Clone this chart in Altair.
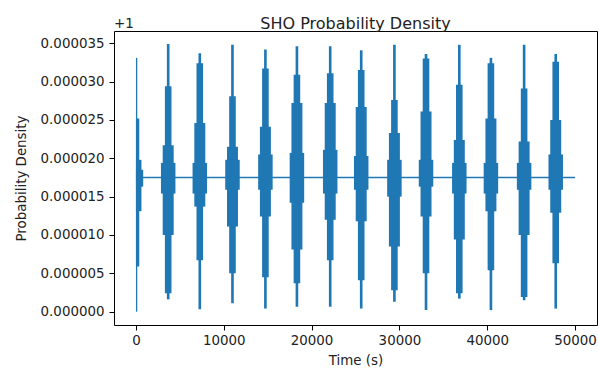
import altair as alt
import pandas as pd

# Burst centres (s)
burst_time = [0, 3670, 7270, 10990, 14740, 18330, 22120, 25650, 29430,
              33030, 36820, 40420, 44200, 47800]

# Upper envelope levels per burst (offset from 1, in units of 1e-6): spike, tier2, tier3, tier4
upper = [
    [33.1, 25.2, 19.8, 18.5],
    [34.9, 29.4, 21.7, 19.4],
    [33.7, 32.4, 24.6, 19.4],
    [34.8, 28.1, 21.5, 19.8],
    [34.2, 31.7, 24.1, 20.5],
    [34.6, 30.9, 27.2, 20.7],
    [34.6, 31.1, 27.2, 21.1],
    [34.1, 31.5, 26.7, 20.3],
    [34.8, 27.6, 23.3, 19.8],
    [33.6, 33.0, 26.1, 19.8],
    [34.8, 29.6, 22.4, 19.4],
    [33.1, 32.4, 25.2, 19.4],
    [34.8, 29.1, 22.2, 19.4],
    [33.6, 32.6, 25.0, 20.5],
]
# Lower envelope levels per burst (units of 1e-6)
lower = [
    [0.0, 5.9, 13.1, 16.3],
    [1.6, 2.4, 10.0, 15.4],
    [0.3, 6.7, 13.7, 15.4],
    [1.1, 5.0, 11.1, 15.9],
    [0.4, 4.5, 12.4, 15.9],
    [0.65, 3.7, 8.1, 14.2],
    [0.65, 6.7, 12.0, 15.4],
    [0.4, 4.1, 11.8, 15.9],
    [1.3, 2.8, 8.5, 15.0],
    [0.2, 5.0, 12.4, 16.3],
    [1.7, 2.4, 9.4, 15.4],
    [0.2, 5.4, 13.1, 15.4],
    [1.5, 1.9, 10.0, 15.9],
    [0.4, 6.3, 12.9, 15.9],
]
# Time span (s) covered by each tier of a burst
tier_span = [300, 750, 1250, 1650]

# Quiet level between bursts
line_time = [0, 50000]
line_value = [17.5, 17.5]

t_start, t_end = 0, 50000

rows = []
for c, ups, los in zip(burst_time, upper, lower):
    for span, up, lo in zip(tier_span, ups, los):
        x0 = max(t_start, c - span / 2)
        x1 = min(t_end, c + span / 2)
        rows.append({"t0": x0, "t1": x1, "lo": lo, "hi": up})
rects = pd.DataFrame(rows)
base = pd.DataFrame({"t": line_time, "v": line_value})

blue = "#1f77b4"
xs = alt.Scale(domain=[-2500, 52500], nice=False, zero=False)
ys = alt.Scale(domain=[-1.74, 36.6], nice=False, zero=False)

x_axis = alt.Axis(values=[0, 10000, 20000, 30000, 40000, 50000], title="Time (s)",
                  format="d",
                  grid=False, domain=False, tickSize=5, tickColor="black",
                  labelPadding=3, labelFontSize=13.4, titleFontSize=13.4,
                  titleFontWeight="normal", titlePadding=7, labelColor="#222",
                  titleColor="#222")
y_axis = alt.Axis(values=[0, 5, 10, 15, 20, 25, 30, 35], title="Probability Density",
                  labelExpr="format(datum.value/1000000, '.6f')",
                  grid=False, domain=False, tickSize=5, tickColor="black",
                  labelPadding=5, labelFontSize=13.4, titleFontSize=13.4,
                  titleFontWeight="normal", titlePadding=12, labelColor="#222",
                  titleColor="#222")

bars = alt.Chart(rects).mark_rect(color=blue).encode(
    x=alt.X("t0:Q", scale=xs, axis=x_axis),
    x2="t1:Q",
    y=alt.Y("lo:Q", scale=ys, axis=y_axis),
    y2="hi:Q",
)
line = alt.Chart(base).mark_line(color=blue, strokeWidth=1.6).encode(
    x=alt.X("t:Q", scale=xs),
    y=alt.Y("v:Q", scale=ys),
)
offset_txt = alt.Chart(pd.DataFrame({"s": ["+1"]})).mark_text(
    align="left", baseline="alphabetic", fontSize=13.4, color="#222"
).encode(x=alt.value(0), y=alt.value(-3), text="s:N")

chart = alt.layer(bars, line, offset_txt).properties(
    width=483, height=294,
    title=alt.TitleParams("SHO Probability Density", fontSize=16, fontWeight="normal",
                          color="#222", offset=4, dy=19),
    autosize=alt.AutoSizeParams(type="none"),
    padding={"left": 114, "top": 31, "right": 2, "bottom": 43},
).configure(font="DejaVu Sans").configure_view(stroke="black", strokeWidth=1)

chart.save("out.html", embed_options={"renderer": "svg", "actions": False})
